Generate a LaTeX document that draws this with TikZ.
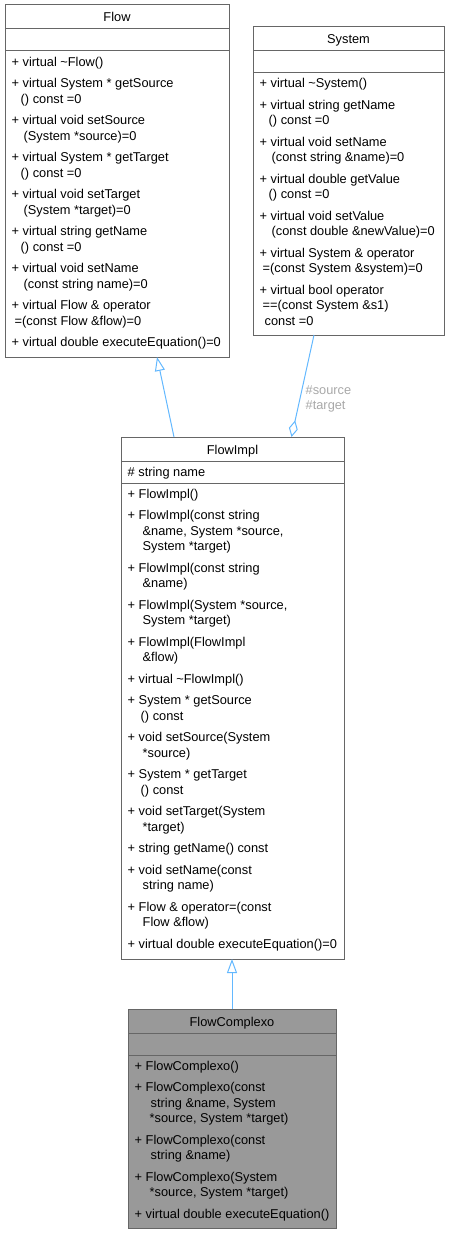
\documentclass[tikz,border=0pt]{standalone}
\usepackage{fontspec}
\setmainfont{Liberation Sans}
\usetikzlibrary{arrows.meta,calc}
\definecolor{boxborder}{HTML}{666666}
\definecolor{edgeblue}{HTML}{63B8FF}
\definecolor{lblgray}{HTML}{A8A8A8}
\definecolor{darkfill}{HTML}{999999}
\newcommand{\firstl}{\rule{0pt}{11.5pt}}
\newcommand{\mygap}{6.4pt}
\newcommand{\ind}[1]{\hspace*{#1pt}}
\begin{document}
\begin{tikzpicture}[x=1pt,y=-1pt,
  box/.style={draw=boxborder,line width=1pt,fill=white,anchor=north west,inner sep=0pt,outer sep=0pt},
  sepline/.style={draw=boxborder,line width=1pt},
  titletext/.style={anchor=base,inner sep=0pt,font=\fontsize{12.8}{15.3}\selectfont},
  members/.style={anchor=north west,inner sep=0pt,align=left,font=\fontsize{12.8}{15.3}\selectfont},
  edge/.style={draw=edgeblue,line width=1pt},
  lbl/.style={anchor=north west,inner sep=0pt,align=left,text=lblgray,font=\fontsize{12.8}{15.3}\selectfont},
  inh/.style={edge,-{Triangle[open,length=14pt,width=10pt]}},
  agg/.style={edge,{Diamond[open,length=17pt,width=9pt]}-},
]
\useasboundingbox (0,0) rectangle (450,1233);

% ---------- Flow ----------
\node[box,minimum width=224pt,minimum height=352pt] (flow) at (5,5) {};
\draw[sepline] ($(flow.north west)+(0,24)$) -- ($(flow.north east)+(0,24)$);
\draw[sepline] ($(flow.north west)+(0,46)$) -- ($(flow.north east)+(0,46)$);
\node[titletext] (flowt) at ($(flow.north)+(0,17)$) {Flow};
\node[members] (flowm) at ($(flow.north west)+(6.5,49.5)$) {%
\firstl+ virtual \textasciitilde Flow()\\[\mygap]
+ virtual System * getSource\\
\ind{9}() const =0\\[\mygap]
+ virtual void setSource\\
\ind{12}(System *source)=0\\[\mygap]
+ virtual System * getTarget\\
\ind{9}() const =0\\[\mygap]
+ virtual void setTarget\\
\ind{12}(System *target)=0\\[\mygap]
+ virtual string getName\\
\ind{9}() const =0\\[\mygap]
+ virtual void setName\\
\ind{12}(const string name)=0\\[\mygap]
+ virtual Flow \& operator\\
\ind{3}=(const Flow \&flow)=0\\[\mygap]
+ virtual double executeEquation()=0};

% ---------- System ----------
\node[box,minimum width=191pt,minimum height=308.5pt] (sys) at (253,26.5) {};
\draw[sepline] ($(sys.north west)+(0,24)$) -- ($(sys.north east)+(0,24)$);
\draw[sepline] ($(sys.north west)+(0,46)$) -- ($(sys.north east)+(0,46)$);
\node[titletext] (syst) at ($(sys.north)+(0,17)$) {System};
\node[members] (sysm) at ($(sys.north west)+(6.5,49.5)$) {%
\firstl+ virtual \textasciitilde System()\\[\mygap]
+ virtual string getName\\
\ind{9}() const =0\\[\mygap]
+ virtual void setName\\
\ind{12}(const string \&name)=0\\[\mygap]
+ virtual double getValue\\
\ind{9}() const =0\\[\mygap]
+ virtual void setValue\\
\ind{12}(const double \&newValue)=0\\[\mygap]
+ virtual System \& operator\\
\ind{3}=(const System \&system)=0\\[\mygap]
+ virtual bool operator\\
\ind{3}==(const System \&s1)\\
\ind{5}const =0};

% ---------- FlowImpl ----------
\node[box,minimum width=223pt,minimum height=522pt] (fimpl) at (121,437) {};
\draw[sepline] ($(fimpl.north west)+(0,24)$) -- ($(fimpl.north east)+(0,24)$);
\draw[sepline] ($(fimpl.north west)+(0,46)$) -- ($(fimpl.north east)+(0,46)$);
\node[titletext] (fimplt) at ($(fimpl.north)+(0,17)$) {FlowImpl};
\node[members] (fimpla) at ($(fimpl.north west)+(6.5,27.5)$) {\firstl\# string name};
\node[members] (fimplm) at ($(fimpl.north west)+(6.5,49.5)$) {%
\firstl+ FlowImpl()\\[\mygap]
+ FlowImpl(const string\\
\ind{15}\&name, System *source,\\
\ind{15}System *target)\\[\mygap]
+ FlowImpl(const string\\
\ind{15}\&name)\\[\mygap]
+ FlowImpl(System *source,\\
\ind{15}System *target)\\[\mygap]
+ FlowImpl(FlowImpl\\
\ind{15}\&flow)\\[\mygap]
+ virtual \textasciitilde FlowImpl()\\[\mygap]
+ System * getSource\\
\ind{13}() const\\[\mygap]
+ void setSource(System\\
\ind{15}*source)\\[\mygap]
+ System * getTarget\\
\ind{13}() const\\[\mygap]
+ void setTarget(System\\
\ind{15}*target)\\[\mygap]
+ string getName() const\\[\mygap]
+ void setName(const\\
\ind{15}string name)\\[\mygap]
+ Flow \& operator=(const\\
\ind{15}Flow \&flow)\\[\mygap]
+ virtual double executeEquation()=0};

% ---------- FlowComplexo ----------
\node[box,fill=darkfill,minimum width=208pt,minimum height=219pt] (fcx) at (128,1009) {};
\draw[sepline] ($(fcx.north west)+(0,24)$) -- ($(fcx.north east)+(0,24)$);
\draw[sepline] ($(fcx.north west)+(0,46)$) -- ($(fcx.north east)+(0,46)$);
\node[titletext] (fcxt) at ($(fcx.north)+(0,17)$) {FlowComplexo};
\node[members] (fcxm) at ($(fcx.north west)+(6.5,49.5)$) {%
\firstl+ FlowComplexo()\\[\mygap]
+ FlowComplexo(const\\
\ind{16}string \&name, System\\
\ind{15}*source, System *target)\\[\mygap]
+ FlowComplexo(const\\
\ind{16}string \&name)\\[\mygap]
+ FlowComplexo(System\\
\ind{15}*source, System *target)\\[\mygap]
+ virtual double executeEquation()};

% ---------- connectors ----------
\draw[inh] ($(fimpl.north west)+(53,0)$) -- ($(flow.south west)+(152,0)$);
\draw[agg] ($(fimpl.north west)+(170.5,0)$) -- ($(sys.south west)+(61,0)$);
\node[lbl] (agglbl) at (305.5,382.8) {\firstl\#source\\\#target};
\draw[inh] (fcx.north) -- (fcx.north |- fimpl.south);
\end{tikzpicture}
\end{document}
